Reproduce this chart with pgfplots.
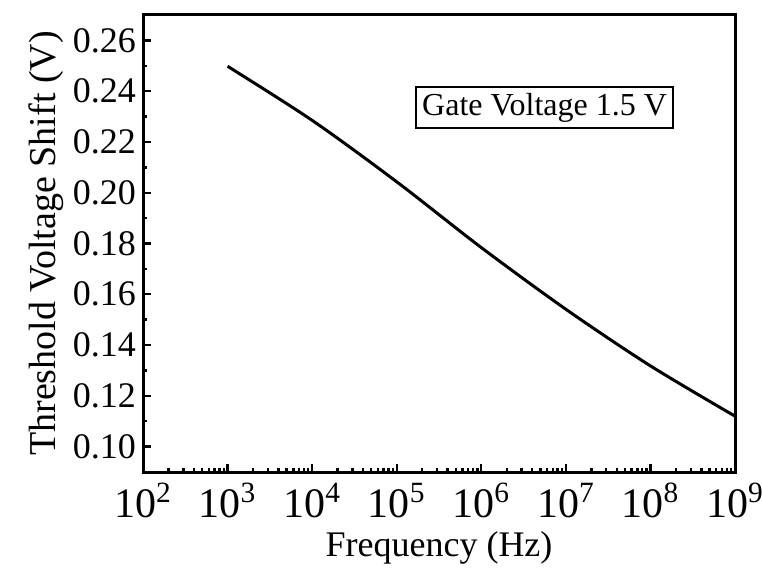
\documentclass[border=0pt]{standalone}
\usepackage{fontspec}
\setmainfont{Liberation Serif}
\usepackage{pgfplots}
\pgfplotsset{compat=1.18}
\begin{document}
\begin{tikzpicture}
\begin{semilogxaxis}[
  scale only axis,
  width=296pt, height=228.5pt,
  xmin=1e2, xmax=1e9,
  ymin=0.09, ymax=0.27,
  log basis x=10,
  xtick={1e2,1e3,1e4,1e5,1e6,1e7,1e8,1e9},
  xticklabels={10\textsuperscript{2},10\textsuperscript{3},10\textsuperscript{4},10\textsuperscript{5},10\textsuperscript{6},10\textsuperscript{7},10\textsuperscript{8},10\textsuperscript{9}\hspace{5pt}},
  minor xtick={2e2,3e2,4e2,5e2,6e2,7e2,8e2,9e2,
               2e3,3e3,4e3,5e3,6e3,7e3,8e3,9e3,
               2e4,3e4,4e4,5e4,6e4,7e4,8e4,9e4,
               2e5,3e5,4e5,5e5,6e5,7e5,8e5,9e5,
               2e6,3e6,4e6,5e6,6e6,7e6,8e6,9e6,
               2e7,3e7,4e7,5e7,6e7,7e7,8e7,9e7,
               2e8,3e8,4e8,5e8,6e8,7e8,8e8,9e8},
  ytick={0.10,0.12,0.14,0.16,0.18,0.20,0.22,0.24,0.26},
  minor y tick num=1,
  yticklabel style={/pgf/number format/fixed,/pgf/number format/precision=2,/pgf/number format/fixed zerofill,/pgf/number format/assume math mode=true,font=\fontsize{18}{20}\selectfont},
  xticklabel style={font=\fontsize{21}{23}\selectfont, yshift=-2pt},
  tick align=inside,
  xtick pos=bottom, ytick pos=left,
  major tick length=4pt, minor tick length=2pt,
  every tick/.style={black, line width=1.2pt},
  axis line style={line width=1.5pt},
  xlabel style={font=\fontsize{18}{20}\selectfont, yshift=0pt},
  ylabel style={font=\fontsize{19}{21}\selectfont, yshift=-2pt},
  xlabel={Frequency (Hz)},
  ylabel={Threshold Voltage Shift (V)},
  clip=false,
]
\addplot[black, line width=1.5pt, smooth] coordinates {
  (1e3,0.2498) (1e4,0.2285) (1e5,0.2043) (1e6,0.1784) (1e7,0.1541) (1e8,0.1318) (1e9,0.1120)
};
\node[draw, line width=0.8pt, inner sep=3pt, font=\fontsize{16}{18}\selectfont] at (axis cs:5.6e6,0.2335) {Gate Voltage 1.5 V};
\end{semilogxaxis}
\pgfresetboundingbox
\path[use as bounding box] (current axis.south west) ++(-71.5pt,-55pt) rectangle ([shift={(13.5pt,7.5pt)}]current axis.north east);
\end{tikzpicture}
\end{document}
